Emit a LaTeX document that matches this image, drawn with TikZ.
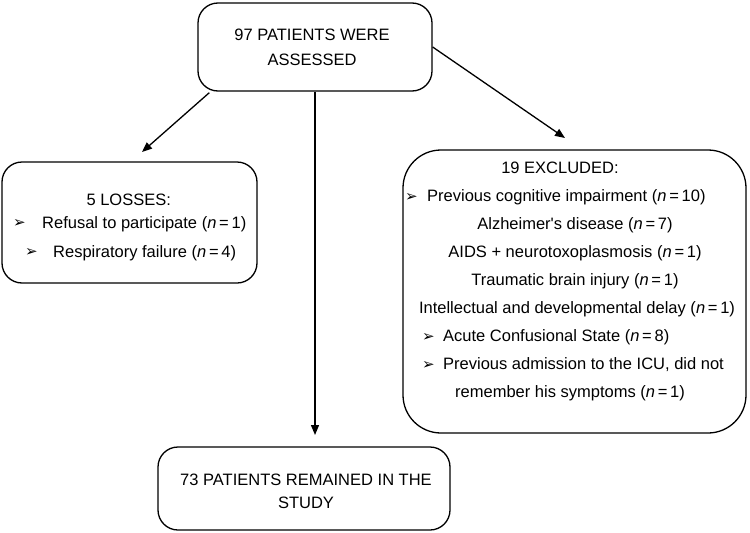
\documentclass[tikz,border=0pt]{standalone}
\usepackage{fontspec}
\setmainfont{Liberation Sans}
\newfontfamily\dvfont{DejaVu Sans}
\usetikzlibrary{arrows.meta,calc}
\newcommand{\bul}[1]{\makebox[#1][l]{\raisebox{0.5pt}{\dvfont\fontsize{15}{15}\selectfont ➢}}}
\newcommand{\nn}[1]{(\textit{n}\,=\,#1)}
\begin{document}
\begin{tikzpicture}[x=1pt,y=-1pt,
  box/.style={draw=black,line width=1.3pt,inner sep=0pt},
  txt/.style={inner sep=0pt,font=\fontsize{16.5}{18}\selectfont,anchor=base},
  txtl/.style={txt,anchor=base west},
  arr/.style={line width=1.3pt,-{Triangle[length=10pt,width=8pt]}}]
\useasboundingbox (0,0) rectangle (750,533);
% boxes
\node[box,rounded corners=20pt,minimum width=234pt,minimum height=88pt] (top) at (315,47) {};
\node[box,rounded corners=20pt,minimum width=255pt,minimum height=121pt] (loss) at (129.5,222.5) {};
\node[box,rounded corners=38pt,minimum width=343pt,minimum height=283pt] (excl) at (574.5,291.5) {};
\node[box,rounded corners=20pt,minimum width=292pt,minimum height=83pt] (rem) at (304,488.5) {};
% texts
\node[txt] (t1) at (312,40) {97 PATIENTS WERE};
\node[txt] (t2) at (312,65) {ASSESSED};
\node[txt] (l1) at (128.7,205) {5 LOSSES:};
\node[txtl] (l2) at (13,228) {\bul{29pt}Refusal to participate \nn{1}};
\node[txtl] (l3) at (25,257) {\bul{28pt}Respiratory failure \nn{4}};
\node[txt] (e1) at (560,173.5) {19 EXCLUDED:};
\node[txtl] (e2) at (405,201.5) {\bul{22pt}Previous cognitive impairment \nn{10}};
\node[txt] (e3) at (575,229.5) {Alzheimer\textquotesingle s disease \nn{7}};
\node[txt] (e4) at (575,257.5) {AIDS + neurotoxoplasmosis \nn{1}};
\node[txt] (e5) at (575,285.5) {Traumatic brain injury \nn{1}};
\node[txt] (e6) at (577,313.5) {Intellectual and developmental delay \nn{1}};
\node[txtl] (e7) at (422,341.5) {\bul{21pt}Acute Confusional State \nn{8}};
\node[txtl] (e8) at (422,369.5) {\bul{21pt}Previous admission to the ICU, did not};
\node[txtl] (e9) at (455,397.5) {remember his symptoms \nn{1}};
\node[txt] (b1) at (306,485) {73 PATIENTS REMAINED IN THE};
\node[txt] (b2) at (306,508) {STUDY};
% arrows
\coordinate (lt) at (142,152);
\coordinate (rt) at (565,138);
\coordinate (bt) at (315,435);
\draw[arr] ($(top.south west)+(12,1)$) -- (lt);
\draw[arr] (top.east) -- (rt);
\draw[arr] (top.south) -- (bt);
\end{tikzpicture}
\end{document}
